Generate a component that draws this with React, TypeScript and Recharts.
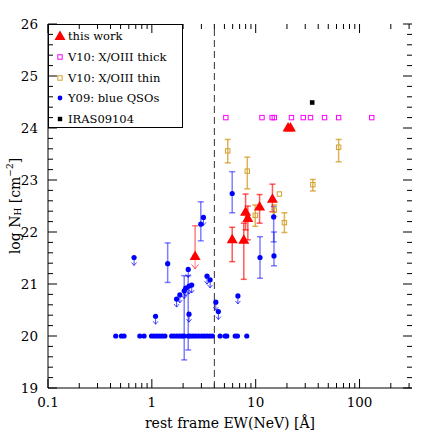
import React from 'react';
import { ScatterChart, Scatter, XAxis, YAxis, ErrorBar, ReferenceLine, Legend, Label } from 'recharts';

const FONT = '"DejaVu Serif", "Liberation Serif", serif';

// ---- axes ----
const xDomain = [0.1, 320];
const yDomain = [19, 26];
const xMajorTicks = [0.1, 1, 10, 100];
const xMinorTicks = [0.2, 0.3, 0.4, 0.5, 0.6, 0.7, 0.8, 0.9, 2, 3, 4, 5, 6, 7, 8, 9, 20, 30, 40, 50, 60, 70, 80, 90, 200, 300];
const yMajorTicks = [19, 20, 21, 22, 23, 24, 25, 26];
const yMinorTicks = [
  19.2, 19.4, 19.6, 19.8, 20.2, 20.4, 20.6, 20.8, 21.2, 21.4, 21.6, 21.8,
  22.2, 22.4, 22.6, 22.8, 23.2, 23.4, 23.6, 23.8, 24.2, 24.4, 24.6, 24.8, 25.2, 25.4, 25.6, 25.8,
];
const dividerEW = 4;

// ---- this work (red triangles) ----
const workX = [5.94, 7.68, 7.99, 8.4, 10.9, 14.5];
const workY = [21.86, 21.85, 22.39, 22.27, 22.49, 22.64];
const workLo = [21.43, 21.09, 22.04, 21.85, 22.17, 22.39];
const workHi = [22.09, 22.17, 22.73, 22.5, 22.72, 22.92];
const workNoErrX = [20.5, 21.6];
const workNoErrY = [24.01, 24.01];
const workLimX = [2.61];
const workLimY = [21.54];
const workLimHi = [22.12];

// ---- V10 X/OIII thick (magenta) ----
const thickX = [5.16, 11.5, 14.4, 15.1, 22.1, 28.7, 33.7, 46.0, 62.9, 131];
const thickY = [24.2, 24.2, 24.2, 24.2, 24.2, 24.2, 24.2, 24.2, 24.2, 24.2];

// ---- V10 X/OIII thin (golden) ----
const thinX = [5.38, 8.3, 9.9, 15.1, 18.9, 35.5, 62.9];
const thinY = [23.56, 23.17, 22.32, 22.42, 22.18, 22.91, 23.63];
const thinLo = [23.33, 22.83, 22.11, 22.3, 21.99, 22.79, 23.35];
const thinHi = [23.78, 23.44, 22.52, 22.52, 22.37, 23.01, 23.78];
const thinNoErrX = [16.9];
const thinNoErrY = [22.73];

// ---- Y09 blue QSOs ----
const qsoErrX = [1.42, 2.96, 5.94, 11.0, 14.9, 15.0, 2.05, 2.24];
const qsoErrY = [21.39, 22.15, 22.74, 21.51, 22.29, 21.54, 20, 20];
const qsoErrLo = [21.03, 21.83, 22.37, 21.11, 21.81, 21.35, 19.54, 19.73];
const qsoErrHi = [21.79, 22.58, 23.16, 21.91, 22.49, 22.0, 21.16, 21.16];
const qsoLimX = [0.674, 1.086, 1.73, 1.86, 2.05, 2.12, 2.24, 2.28, 2.42, 2.28, 3.14, 3.4, 3.64, 4.13, 4.37, 6.74];
const qsoLimY = [21.51, 20.38, 20.71, 20.79, 20.87, 20.92, 21.28, 20.96, 20.98, 20.42, 22.28, 21.15, 21.08, 20.65, 20.47, 20.77];
const qsoFlatX = [
  0.449, 0.509, 0.54, 0.766, 0.842, 0.993, 1.05, 1.118, 1.187, 1.258, 1.336, 1.55, 1.64, 1.745, 1.853,
  1.96, 2.35, 2.49, 2.64, 2.82, 3.02, 3.2, 3.4, 3.61, 3.83, 4.54, 5.08, 5.27, 6.35, 6.67, 8.2,
];
const qsoFlatY = qsoFlatX.map(() => 20);

// ---- IRAS09104 ----
const irasX = [35.0];
const irasY = [24.49];

// ---- legend ----
const legendLabels = ['this work', 'V10: X/OIII thick', 'V10: X/OIII thin', 'Y09: blue QSOs', 'IRAS09104'];

const RED = '#ff0000';
const MAGENTA = '#ff00ff';
const GOLD = '#d4a02c';
const BLUE = '#0000ff';

const pts = (xs: number[], ys: number[], lo?: number[], hi?: number[]) =>
  xs.map((x, i) => ({
    x,
    y: ys[i],
    err: lo && hi ? [ys[i] - lo[i], hi[i] - ys[i]] : undefined,
  }));

const workData = pts(workX, workY, workLo, workHi);
const workNoErrData = pts(workNoErrX, workNoErrY);
const workLimData = workLimX.map((x, i) => ({ x, y: workLimY[i], err: [0, workLimHi[i] - workLimY[i]] }));
const thickData = pts(thickX, thickY);
const thinData = pts(thinX, thinY, thinLo, thinHi);
const thinNoErrData = pts(thinNoErrX, thinNoErrY);
const qsoErrData = pts(qsoErrX, qsoErrY, qsoErrLo, qsoErrHi);
const qsoLimData = pts(qsoLimX, qsoLimY);
const qsoFlatData = pts(qsoFlatX, qsoFlatY);
const irasData = pts(irasX, irasY);

// ---- layout ----
const CHART_W = 436;
const CHART_H = 436;
const MARGIN = { top: 24, right: 24, bottom: 4, left: 8 };
const X_AXIS_H = 44;
const Y_AXIS_W = 40;
const PLOT_W = CHART_W - MARGIN.left - MARGIN.right - Y_AXIS_W;
const PLOT_H = CHART_H - MARGIN.top - MARGIN.bottom - X_AXIS_H;
const PX_PER_Y = PLOT_H / (yDomain[1] - yDomain[0]);
const PX_PER_DECADE = PLOT_W / Math.log10(xDomain[1] / xDomain[0]);
const MAJOR = 9;
const MINOR = 5;
const X_MARGIN = 9;
const Y_MARGIN = 10;

// ---- shapes ----
const Tri = ({ cx, cy }: any) => (
  <polygon points={`${cx},${cy - 5.5} ${cx - 5.5},${cy + 4} ${cx + 5.5},${cy + 4}`} fill={RED} />
);
const TriLimit = ({ cx, cy }: any) => (
  <g>
    <line x1={cx} x2={cx} y1={cy} y2={cy + 13} stroke={RED} strokeOpacity={0.5} />
    <polyline points={`${cx - 3.5},${cy + 8.5} ${cx},${cy + 13} ${cx + 3.5},${cy + 8.5}`} fill="none" stroke={RED} strokeOpacity={0.6} />
    <polygon points={`${cx},${cy - 5.5} ${cx - 5.5},${cy + 4} ${cx + 5.5},${cy + 4}`} fill={RED} />
  </g>
);
const OpenSq = (color: string) => ({ cx, cy }: any) => (
  <rect x={cx - 2.2} y={cy - 2.2} width={4.4} height={4.4} fill="none" stroke={color} strokeWidth={1} />
);
const Dot = ({ cx, cy }: any) => <circle cx={cx} cy={cy} r={2.6} fill={BLUE} />;
const DotLimit = ({ cx, cy }: any) => (
  <g>
    <line x1={cx} x2={cx} y1={cy} y2={cy + 8} stroke={BLUE} strokeOpacity={0.7} />
    <polyline points={`${cx - 2.5},${cy + 5} ${cx},${cy + 8} ${cx + 2.5},${cy + 5}`} fill="none" stroke={BLUE} strokeOpacity={0.7} />
    <circle cx={cx} cy={cy} r={2.6} fill={BLUE} />
  </g>
);
const BlackSq = ({ cx, cy }: any) => <rect x={cx - 2.3} y={cy - 2.3} width={4.6} height={4.6} fill="#000" />;

// ---- tick labels ----
const BottomLabel = (props: any) => {
  const { x, y, payload } = props;
  return (
    <text x={x} y={Number(y) - X_MARGIN + 18.5} textAnchor="middle" fontSize={13.5} fontFamily={FONT} fill="#000">
      {String(payload.value)}
    </text>
  );
};
const LeftLabel = (props: any) => {
  const { x, y, payload } = props;
  return (
    <text x={x} y={Number(y) + 4.7} textAnchor="end" fontSize={13.5} fontFamily={FONT} fill="#000">
      {String(payload.value)}
    </text>
  );
};

const XTitle = (props: any) => {
  const vb = props.viewBox || {};
  return (
    <text x={vb.x + vb.width / 2} y={vb.y + 40} textAnchor="middle" fontSize={14} fontFamily={FONT} fill="#000">
      rest frame EW(NeV) [Å]
    </text>
  );
};
const YTitle = (props: any) => {
  const vb = props.viewBox || {};
  const cx = vb.x + 7;
  const cy = vb.y + vb.height / 2;
  return (
    <text x={cx} y={cy} transform={`rotate(-90 ${cx} ${cy})`} textAnchor="middle" dominantBaseline="central" fontSize={14} fontFamily={FONT} fill="#000">
      log N
      <tspan dy={3} fontSize={9}>H</tspan>
      <tspan dy={-3}> [cm</tspan>
      <tspan dy={-5} fontSize={9}>−2</tspan>
      <tspan dy={5}>]</tspan>
    </text>
  );
};

const LegendIcon = ({ i }: { i: number }) => {
  const c = 12;
  const m = 8;
  if (i === 0) return <polygon points={`${c},${m - 5.5} ${c - 5.5},${m + 4} ${c + 5.5},${m + 4}`} fill={RED} />;
  if (i === 1) return <rect x={c - 2.2} y={m - 2.2} width={4.4} height={4.4} fill="none" stroke={MAGENTA} />;
  if (i === 2) return <rect x={c - 2.2} y={m - 2.2} width={4.4} height={4.4} fill="none" stroke={GOLD} />;
  if (i === 3) return <circle cx={c} cy={m} r={2.4} fill={BLUE} />;
  return <rect x={c - 2.2} y={m - 2.2} width={4.4} height={4.4} fill="#000" />;
};

const LegendBox = () => (
  <div style={{ position: 'relative', width: 135, height: 104, border: '1px solid #000', boxSizing: 'border-box', fontFamily: FONT, fontSize: 11.5, color: '#000' }}>
    {legendLabels.map((label, i) => (
      <div key={label} style={{ position: 'absolute', left: -1, top: 3 + i * 20.8, height: 16, display: 'flex', alignItems: 'center', whiteSpace: 'nowrap' }}>
        <svg width={20} height={16} style={{ display: 'block' }}>
          <LegendIcon i={i} />
        </svg>
        <span style={{ lineHeight: '16px' }}>{label}</span>
      </div>
    ))}
  </div>
);

// tick marks drawn as short reference segments, pointing into the plot
const tickSegments = () => {
  const out: React.ReactElement[] = [];
  const [x0, x1] = xDomain;
  const [y0, y1] = yDomain;
  const addX = (v: number, len: number) => {
    const dy = len / PX_PER_Y;
    out.push(<ReferenceLine key={`xb${v}`} segment={[{ x: v, y: y0 }, { x: v, y: y0 + dy }]} stroke="#000" ifOverflow="visible" />);
    out.push(<ReferenceLine key={`xt${v}`} segment={[{ x: v, y: y1 }, { x: v, y: y1 - dy }]} stroke="#000" ifOverflow="visible" />);
  };
  const addY = (v: number, len: number) => {
    const f = Math.pow(10, len / PX_PER_DECADE);
    out.push(<ReferenceLine key={`yl${v}`} segment={[{ x: x0, y: v }, { x: x0 * f, y: v }]} stroke="#000" ifOverflow="visible" />);
    out.push(<ReferenceLine key={`yr${v}`} segment={[{ x: x1, y: v }, { x: x1 / f, y: v }]} stroke="#000" ifOverflow="visible" />);
  };
  xMajorTicks.forEach((v) => addX(v, MAJOR));
  xMinorTicks.forEach((v) => addX(v, MINOR));
  yMajorTicks.forEach((v) => addY(v, MAJOR));
  yMinorTicks.forEach((v) => addY(v, MINOR));
  return out;
};

export default function App() {
  return (
    <div style={{ position: 'absolute', left: 0, top: 0, width: CHART_W, height: CHART_H, background: '#fff' }}>
      <ScatterChart width={CHART_W} height={CHART_H} margin={MARGIN}>
        <XAxis
          dataKey="x"
          type="number"
          scale="log"
          domain={xDomain}
          allowDataOverflow
          ticks={xMajorTicks}
          interval={0}
          tickSize={0}
          tickMargin={X_MARGIN}
          tickLine={false}
          tick={BottomLabel}
          axisLine={{ stroke: '#000' }}
          height={X_AXIS_H}
          label={<Label content={<XTitle />} />}
        />
        <YAxis
          dataKey="y"
          type="number"
          domain={yDomain}
          allowDataOverflow
          ticks={yMajorTicks}
          interval={0}
          tickSize={0}
          tickMargin={Y_MARGIN}
          tickLine={false}
          tick={LeftLabel}
          axisLine={{ stroke: '#000' }}
          width={Y_AXIS_W}
          label={<Label content={<YTitle />} />}
        />
        <XAxis
          xAxisId="frameTop"
          orientation="top"
          mirror
          type="number"
          scale="log"
          domain={xDomain}
          allowDataOverflow
          ticks={xMajorTicks}
          tick={false}
          tickLine={false}
          axisLine={{ stroke: '#000' }}
          height={0}
        />
        <YAxis
          yAxisId="frameRight"
          orientation="right"
          mirror
          type="number"
          domain={yDomain}
          allowDataOverflow
          ticks={yMajorTicks}
          tick={false}
          tickLine={false}
          axisLine={{ stroke: '#000' }}
          width={0}
        />
        {tickSegments()}
        <ReferenceLine x={dividerEW} stroke="#333" strokeDasharray="7 4" />
        <Scatter data={qsoFlatData} shape={Dot} isAnimationActive={false} />
        <Scatter data={qsoLimData} shape={DotLimit} isAnimationActive={false} />
        <Scatter data={qsoErrData} shape={Dot} isAnimationActive={false}>
          <ErrorBar dataKey="err" direction="y" width={3} stroke={BLUE} strokeOpacity={0.5} isAnimationActive={false} />
        </Scatter>
        <Scatter data={thinData} shape={OpenSq(GOLD)} isAnimationActive={false}>
          <ErrorBar dataKey="err" direction="y" width={3} stroke={GOLD} strokeOpacity={0.8} isAnimationActive={false} />
        </Scatter>
        <Scatter data={thinNoErrData} shape={OpenSq(GOLD)} isAnimationActive={false} />
        <Scatter data={thickData} shape={OpenSq(MAGENTA)} isAnimationActive={false} />
        <Scatter data={irasData} shape={BlackSq} isAnimationActive={false} />
        <Scatter data={workLimData} shape={TriLimit} isAnimationActive={false}>
          <ErrorBar dataKey="err" direction="y" width={3} stroke={RED} strokeOpacity={0.5} isAnimationActive={false} />
        </Scatter>
        <Scatter data={workData} shape={Tri} isAnimationActive={false}>
          <ErrorBar dataKey="err" direction="y" width={3} stroke={RED} strokeOpacity={0.65} isAnimationActive={false} />
        </Scatter>
        <Scatter data={workNoErrData} shape={Tri} isAnimationActive={false} />
        <Legend
          layout="horizontal"
          verticalAlign="middle"
          align="center"
          wrapperStyle={{ left: 48, top: 24, width: 135, height: 104 }}
          content={() => <LegendBox />}
        />
      </ScatterChart>
    </div>
  );
}
